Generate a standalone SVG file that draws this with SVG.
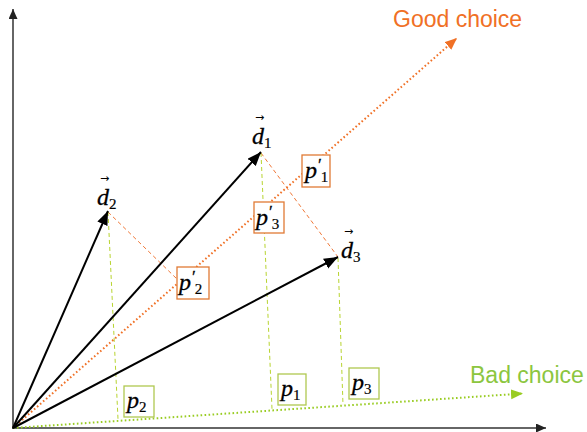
<svg xmlns="http://www.w3.org/2000/svg" width="587" height="432" viewBox="0 0 587 432">
<style>
.axis{stroke:#333;stroke-width:1.5;fill:none}
.vec{stroke:#000;stroke-width:2;fill:none}
.good{stroke:#f07025;stroke-width:2;stroke-dasharray:1.6 2.4;fill:none}
.bad{stroke:#99cc22;stroke-width:2;stroke-dasharray:1.6 2.4;fill:none}
.po{stroke:#f07838;stroke-width:1;stroke-dasharray:4 3;fill:none}
.pg{stroke:#b8d430;stroke-width:1;stroke-dasharray:4 3;fill:none}
.bo{fill:#fff;stroke:#e07a35;stroke-width:1.3}
.bg{fill:#fff;stroke:#b0c850;stroke-width:1.3}
.m{font-family:"Liberation Serif","Times New Roman",serif;font-style:italic;font-size:24px;fill:#000;stroke:#000;stroke-width:0.3}
.s{font-style:normal;font-size:15px;stroke-width:0.2}
.pr{font-size:17px}
.ar{font-family:"DejaVu Sans",sans-serif;font-size:11px;fill:#000}
.lbl{font-family:"Liberation Sans",Arial,sans-serif;font-size:23px}
</style>
<defs>
<marker id="ak" markerUnits="userSpaceOnUse" markerWidth="15" markerHeight="12" refX="14" refY="5.5" orient="auto"><path d="M0,0 L14,5.5 L0,11 z" fill="#000"/></marker>
<marker id="aa" markerUnits="userSpaceOnUse" markerWidth="12" markerHeight="10" refX="10" refY="4.5" orient="auto"><path d="M0,0 L10,4.5 L0,9 z" fill="#222"/></marker>
<marker id="ao" markerUnits="userSpaceOnUse" markerWidth="14" markerHeight="12" refX="12" refY="5" orient="auto"><path d="M0,0 L12,5 L0,10 z" fill="#f07025"/></marker>
<marker id="ag" markerUnits="userSpaceOnUse" markerWidth="14" markerHeight="12" refX="12" refY="5" orient="auto"><path d="M0,0 L12,5 L0,10 z" fill="#99cc22"/></marker>
</defs>
<g id="connectors">
<line class="axis" x1="13" y1="429" x2="13" y2="9" marker-end="url(#aa)"/>
<line class="axis" x1="12" y1="428" x2="546" y2="428" marker-end="url(#aa)"/>
<line class="good" x1="13" y1="428" x2="457" y2="38" marker-end="url(#ao)"/>
<line class="bad" x1="13" y1="428" x2="523" y2="393.5" marker-end="url(#ag)"/>
<line class="po" x1="261" y1="153" x2="338" y2="257"/>
<line class="po" x1="108" y1="212" x2="178" y2="280"/>
<line class="pg" x1="261" y1="153" x2="272" y2="409"/>
<line class="pg" x1="108" y1="212" x2="118" y2="419"/>
<line class="pg" x1="338" y1="258" x2="343" y2="405"/>
<line class="vec" x1="13" y1="428" x2="261" y2="152" marker-end="url(#ak)"/>
<line class="vec" x1="13" y1="428" x2="108" y2="211" marker-end="url(#ak)"/>
<line class="vec" x1="13" y1="428" x2="338" y2="257" marker-end="url(#ak)"/>
</g>
<g id="good-choice"><text class="lbl" x="393" y="27" fill="#f07025">Good choice</text></g>
<g id="bad-choice"><text class="lbl" x="470" y="383" fill="#8cc63f">Bad choice</text></g>
<g id="d1"><text class="ar" x="255" y="121">→</text><text class="m" x="252" y="144">d<tspan class="s" dy="4">1</tspan></text></g>
<g id="d2"><text class="ar" x="100" y="182">→</text><text class="m" x="97" y="205">d<tspan class="s" dy="4">2</tspan></text></g>
<g id="d3"><text class="ar" x="344" y="235">→</text><text class="m" x="341" y="258">d<tspan class="s" dy="4">3</tspan></text></g>
<g id="p1p"><rect class="bo" x="302" y="155" width="28" height="32"/><text class="m" x="305" y="178">p<tspan class="pr" dx="0" dy="-8">′</tspan><tspan class="s" dx="0" dy="12">1</tspan></text></g>
<g id="p3p"><rect class="bo" x="254" y="202" width="30" height="31"/><text class="m" x="256" y="225">p<tspan class="pr" dx="0" dy="-8">′</tspan><tspan class="s" dx="0" dy="12">3</tspan></text></g>
<g id="p2p"><rect class="bo" x="177" y="267" width="32" height="32"/><text class="m" x="179" y="290">p<tspan class="pr" dx="0" dy="-8">′</tspan><tspan class="s" dx="0" dy="12">2</tspan></text></g>
<g id="p2"><rect class="bg" x="124" y="386" width="30" height="31"/><text class="m" x="127" y="408">p<tspan class="s" dy="4">2</tspan></text></g>
<g id="p1"><rect class="bg" x="278" y="374" width="28" height="31"/><text class="m" x="281" y="396">p<tspan class="s" dy="4">1</tspan></text></g>
<g id="p3"><rect class="bg" x="349" y="368" width="30" height="31"/><text class="m" x="352" y="390">p<tspan class="s" dy="4">3</tspan></text></g>
</svg>
